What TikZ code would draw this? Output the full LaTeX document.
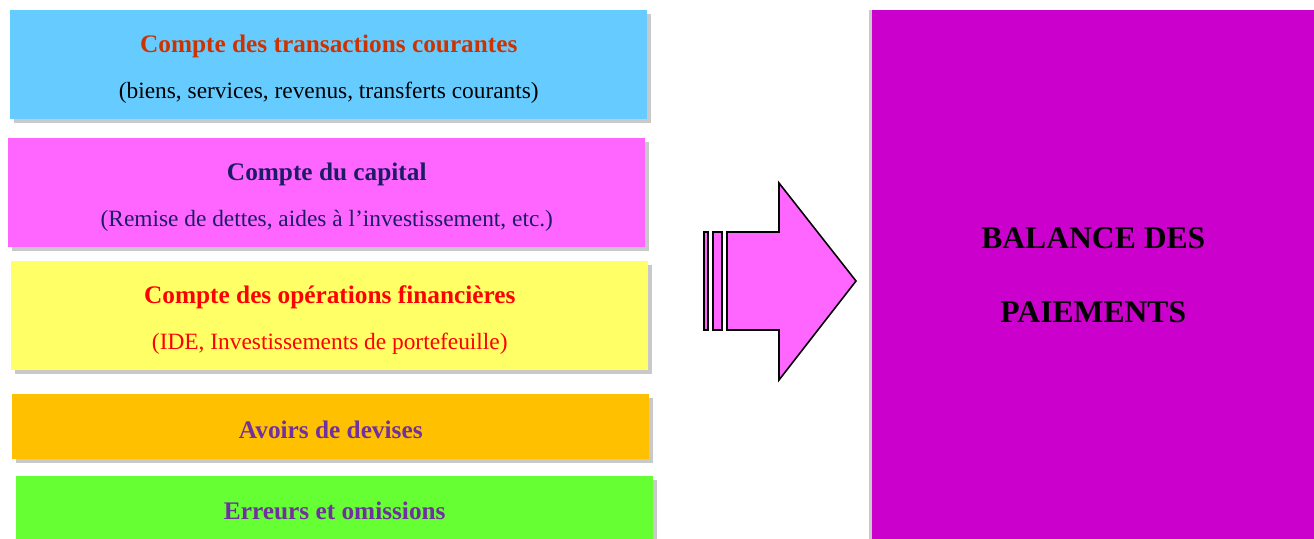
\documentclass[tikz,border=0pt]{standalone}
\usepackage{fontspec}
\setmainfont{Liberation Serif}
\usetikzlibrary{shadows}
\usetikzlibrary{positioning}

\definecolor{skyfill}{HTML}{66CCFF}
\definecolor{pinkfill}{HTML}{FF66FF}
\definecolor{lemonfill}{HTML}{FFFF66}
\definecolor{amberfill}{HTML}{FFC000}
\definecolor{limefill}{HTML}{66FF33}
\definecolor{bopfill}{HTML}{CC00CC}
\definecolor{brick}{HTML}{CC3300}
\definecolor{navytxt}{HTML}{1C1C64}
\definecolor{purpletxt}{HTML}{7030A0}

\newcommand{\accttitle}{\bfseries\fontsize{14.4}{17}\selectfont}
\newcommand{\acctnote}{\fontsize{13.3}{16}\selectfont}

\begin{document}
\begin{tikzpicture}[x=0.02cm, y=-0.02cm,
    acct/.style = {anchor=north west, inner sep=0pt, align=center, minimum width=12.74cm,
                   drop shadow={shadow xshift=2pt, shadow yshift=-2pt, opacity=0.3, fill=black!70}},
    twoline/.style = {acct, minimum height=2.18cm},
    oneline/.style = {acct, minimum height=1.30cm, font=\accttitle, text=purpletxt},
    striped/.style = {draw=black, line width=0.9pt, fill=pinkfill, line join=miter}]
    \useasboundingbox (0,0) rectangle (1314,538);

    % Accounts
    \node[twoline, fill=skyfill] (courant) at (10,10)
        {\rule{0pt}{15pt}\textcolor{brick}{\accttitle Compte des transactions courantes}\\[13pt]
         {\acctnote (biens, services, revenus, transferts courants)}};
    \node[twoline, fill=pinkfill, text=navytxt] (capital) at (8,138)
        {\rule{0pt}{15pt}{\accttitle Compte du capital}\\[13pt]
         {\acctnote (Remise de dettes, aides à l’investissement, etc.)}};
    \node[twoline, fill=lemonfill, text=red] (financier) at (11,261)
        {\rule{0pt}{15pt}{\accttitle Compte des opérations financières}\\[13pt]
         {\acctnote (IDE, Investissements de portefeuille)}};
    \node[oneline, fill=amberfill] (devises) at (12,394) {\rule{0pt}{13pt}Avoirs de devises};
    \node[oneline, fill=limefill, minimum height=1.4cm] (erreurs) at (16,476) {Erreurs et omissions};

    % Balance
    \node[anchor=north west, inner sep=0pt, align=center, fill=bopfill,
          minimum width=8.84cm, minimum height=10.6cm,
          drop shadow={shadow xshift=-2pt, shadow yshift=0pt, opacity=0.3, fill=black!70},
          font=\bfseries\fontsize{18}{22}\selectfont] (bop) at (872,10)
        {BALANCE DES\\[20pt]PAIEMENTS};

    % Arrow
    \draw[striped] (704,232) rectangle (708,330);
    \draw[striped] (713,232) rectangle (722,330);
    \draw[striped] (727,232) -- (779,232) -- (779,183) -- (856,281)
        -- (779,380) -- (779,330) -- (727,330) -- cycle;
\end{tikzpicture}
\end{document}
